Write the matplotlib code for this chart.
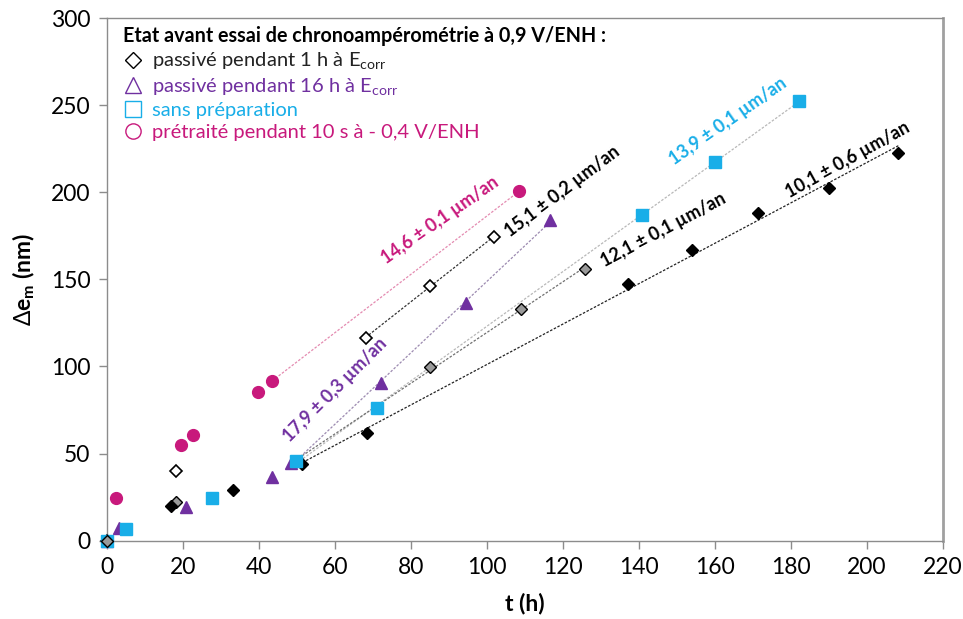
import numpy as np
import matplotlib
matplotlib.use("Agg")
import matplotlib.pyplot as plt
from matplotlib.lines import Line2D

plt.rcParams['font.family'] = ['Lato', 'DejaVu Sans']
plt.rcParams['mathtext.fontset'] = 'custom'
plt.rcParams['mathtext.rm'] = 'Lato'

# ---- data (t in h, delta e_m in nm) ----
t_black = [0, 16.8, 33.2, 51.4, 68.3, 137.0, 153.9, 171.3, 190.0, 208.3]
e_black = [0, 19.9, 29.3, 44.0, 61.8, 147.4, 166.6, 188.1, 202.6, 222.5]

t_grey = [0, 18.1, 49.5, 85.0, 108.9, 125.8]
e_grey = [0, 22.4, 45.0, 99.6, 132.9, 155.9]

t_open = [0, 18.0, 68.0, 84.9, 101.8]
e_open = [0, 40.0, 116.3, 146.3, 174.3]

t_purple = [0, 3.2, 20.8, 43.4, 48.5, 72.0, 94.4, 116.6]
e_purple = [0, 7.1, 19.5, 36.8, 44.4, 90.4, 136.7, 183.8]

t_cyan = [0, 4.9, 27.7, 49.8, 70.9, 140.7, 160.1, 182.1]
e_cyan = [0, 6.9, 24.7, 45.8, 76.0, 186.7, 217.1, 252.6]

t_mag = [0, 2.3, 19.3, 22.5, 39.6, 43.4, 108.4]
e_mag = [0, 24.7, 55.0, 60.9, 85.6, 91.7, 200.5]

# index where each trend line starts
fit_start = {'mag': 5, 'open': 2, 'purple': 4, 'cyan': 3, 'grey': 2, 'black': 3}

rate_labels = ["14,6 ± 0,1 µm/an", "15,1 ± 0,2 µm/an", "17,9 ± 0,3 µm/an",
               "13,9 ± 0,1 µm/an", "12,1 ± 0,1 µm/an", "10,1 ± 0,6 µm/an"]

legend_title = "Etat avant essai de chronoampérométrie à 0,9 V/ENH :"
legend_labels = ["passivé pendant 1 h à E$_{\\mathregular{corr}}$",
                 "passivé pendant 16 h à E$_{\\mathregular{corr}}$",
                 "sans préparation",
                 "prétraité pendant 10 s à - 0,4 V/ENH"]

x_ticks = list(range(0, 221, 20))
y_ticks = list(range(0, 301, 50))

MAG = '#C8197C'
PUR = '#7030A0'
CYA = '#19AEE8'
GRY = '#9A9A9A'

fig = plt.figure(figsize=(9.63, 6.19), dpi=100)
ax = fig.add_axes([0.1114, 0.1265, 0.8676, 0.8444])

def trend(t, e, start, color):
    t = np.asarray(t[start:]); e = np.asarray(e[start:])
    p = np.polyfit(t, e, 1)
    xs = np.array([t.min(), t.max()])
    ax.plot(xs, np.polyval(p, xs), linestyle=(0, (2, 1.3)), color=color, lw=0.9, zorder=1)

trend(t_mag, e_mag, fit_start['mag'], '#E48AB0')
trend(t_open, e_open, fit_start['open'], '#333333')
trend(t_purple, e_purple, fit_start['purple'], '#9C8AB0')
trend(t_cyan, e_cyan, fit_start['cyan'], '#B8B8B8')
trend(t_grey, e_grey, fit_start['grey'], '#707070')
trend(t_black, e_black, fit_start['black'], '#222222')

kw = dict(ls='none', clip_on=False)
ax.plot(t_mag, e_mag, 'o', color=MAG, ms=8.5, zorder=3, **kw)
ax.plot(t_grey, e_grey, 'D', mfc=GRY, mec='black', mew=1.0, ms=6.5, zorder=3, **kw)
ax.plot(t_purple, e_purple, '^', color=PUR, ms=8.5, zorder=3, **kw)
ax.plot(t_open, e_open, 'D', mfc='white', mec='black', mew=1.2, ms=6.5, zorder=3, **kw)
ax.plot(t_black, e_black, 'D', color='black', ms=6, zorder=4, **kw)
ax.plot(t_cyan, e_cyan, 's', color=CYA, ms=8.5, zorder=4, **kw)
ax.plot([t_grey[0]], [e_grey[0]], 'D', mfc=GRY, mec='black', mew=1.0, ms=6.5, zorder=5, **kw)

# rate annotations
ann = [(87.6, 184.1, 35, MAG), (119.8, 200.5, 37, 'black'), (60.1, 86.6, 45, PUR),
       (163.5, 240.5, 35, CYA), (146.3, 178.5, 28, 'black'), (194.9, 218.7, 29, 'black')]
for (x, y, r, c), s in zip(ann, rate_labels):
    ax.text(x, y, s, rotation=r, rotation_mode='anchor', ha='center', va='center',
            color=c, fontsize=13, fontweight='bold', zorder=6)

# legend
handles = [Line2D([], [], marker='D', ls='none', mfc='none', mec='black', mew=1.0, ms=8.5),
           Line2D([], [], marker='^', ls='none', mfc='none', mec=PUR, mew=1.0, ms=11),
           Line2D([], [], marker='s', ls='none', mfc='none', mec=CYA, mew=1.0, ms=11),
           Line2D([], [], marker='o', ls='none', mfc='none', mec=MAG, mew=1.0, ms=11)]
leg = ax.legend(handles, legend_labels, loc='upper left', bbox_to_anchor=(0.0, 1.015),
                frameon=False, fontsize=14.5, title=legend_title, alignment='left',
                handlelength=1.0, handletextpad=0.4, labelspacing=0.22, borderpad=0.3)
leg.get_title().set_fontweight('bold')
leg.get_title().set_fontsize(14.2)
for txt, c in zip(leg.get_texts(), ['#222222', PUR, CYA, MAG]):
    txt.set_color(c)

ax.set_xlim(0, 220)
ax.set_ylim(0, 300)
ax.set_xticks(x_ticks)
ax.set_yticks(y_ticks)
ax.tick_params(axis='both', labelsize=16.5, color='#8c8c8c', length=6, width=1, direction='out', pad=6)
for s in ax.spines.values():
    s.set_color('#8c8c8c')
    s.set_linewidth(1.0)
ax.spines['right'].set_linewidth(2.0)
ax.spines['right'].set_color('#a0a0a0')

ax.set_xlabel('t (h)', fontsize=16.5, fontweight='bold', labelpad=10)
ax.set_ylabel('$\\Delta$e$_{\\mathregular{m}}$ (nm)', fontsize=16.5, fontweight='bold', labelpad=10)

fig.savefig('out.png', dpi=100)
